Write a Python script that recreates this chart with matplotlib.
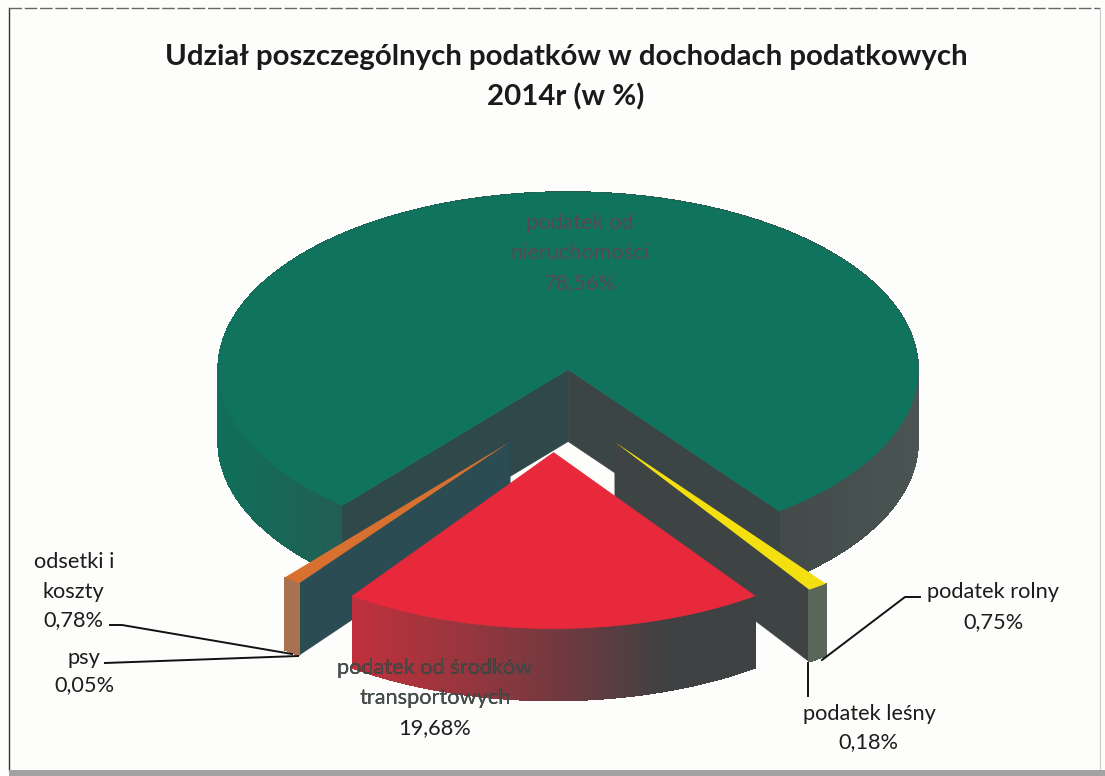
import numpy as np
import matplotlib
matplotlib.use("Agg")
import matplotlib.pyplot as plt
from matplotlib.collections import PolyCollection
from matplotlib.colors import to_rgb
from matplotlib.patches import Polygon

# ---------- data ----------
slice_names = ["nieruchomosci", "rolny", "lesny", "transport", "psy", "odsetki"]
slice_values = [78.56, 0.75, 0.18, 19.68, 0.05, 0.78]
title_lines = ["Udział poszczególnych podatków w dochodach podatkowych", "2014r (w %)"]

# ---------- pie projection ----------
CX, CY = 563, 411     # pie centre before exploding, in pixels
RX = 350              # radius
RED_R = 347           # red slice looks a bit smaller in the scan
RED_TURN = -1.7       # and sits a little rotated against the others
TILT = 0.507          # ellipse squash
DEPTH = 72            # wall height
EXPLODE = 82
START = 220.1         # degrees clockwise from 12 o'clock

plt.rcParams["font.family"] = ["Lato", "DejaVu Sans"]
fig = plt.figure(figsize=(11.05, 7.76), dpi=100, facecolor="#fdfdfb")
ax = fig.add_axes([0, 0, 1, 1])
ax.set_xlim(0, 1105)
ax.set_ylim(776, 0)
ax.axis("off")


def point(theta, center, r=RX):
    t = np.radians(theta)
    return center[0] + r * np.sin(t), center[1] - r * np.cos(t) * TILT


def sector(a, b, center, r=RX):
    th = np.linspace(a, b, max(int(abs(b - a) * 2), 3))
    return [center] + [point(x, center, r) for x in th]


def flat_wall(p, q, color, z):
    pts = [p, q, (q[0], q[1] + DEPTH), (p[0], p[1] + DEPTH)]
    ax.add_patch(Polygon(pts, closed=True, fc=color, ec=color, lw=0.5, zorder=z))


def outer_wall(a, b, center, stops, z, r=RX):
    # curved side of a slice, shaded by how far it turns left or right
    th = np.arange(a, b, 0.5)
    th = np.append(th, b)
    polys, cols = [], []
    xs = [s[0] for s in stops]
    rgb = np.array([to_rgb(s[1]) for s in stops])
    for t0, t1 in zip(th[:-1], th[1:]):
        p, q = point(t0, center, r), point(t1, center, r)
        polys.append([p, q, (q[0], q[1] + DEPTH), (p[0], p[1] + DEPTH)])
        s = np.sin(np.radians((t0 + t1) / 2))
        cols.append([np.interp(s, xs, rgb[:, i]) for i in range(3)])
    ax.add_collection(PolyCollection(polys, facecolors=cols, edgecolors=cols, linewidths=0.5,
                                     antialiaseds=False, zorder=z))


def moved(c, dx, dy):
    return c[0] + dx, c[1] + dy


# angles and exploded centres from the values
spans = np.array(slice_values) / sum(slice_values) * 360
starts = START + np.concatenate([[0], np.cumsum(spans)[:-1]])
ends = starts + spans
centers = {}
angles = {}
for name, a, b in zip(slice_names, starts, ends):
    mid = np.radians((a + b) / 2)
    centers[name] = (CX + EXPLODE * np.sin(mid), CY - EXPLODE * np.cos(mid) * TILT)
    angles[name] = (a, b)

# ---------- main slice ----------
c = moved(centers["nieruchomosci"], 3, 0)
a, b = angles["nieruchomosci"]
green_stops = [(-1, "#0f6f5a"), (-0.63, "#235d54"), (0.6, "#424a4a"), (1, "#4a5553")]
outer_wall(a, 270, c, green_stops, 1)
outer_wall(90, b, c, green_stops, 1)
flat_wall(c, point(a, c), "#2f494b", 2)
flat_wall(c, point(b, c), "#3c4545", 2)
ax.add_patch(Polygon(sector(a, b, c), closed=True, fc="#0f735d", ec="#0f735d", lw=0.5, zorder=3))

# ---------- thin slices ----------
a = angles["rolny"][0]
b = angles["lesny"][1]
c = ((centers["rolny"][0] + centers["lesny"][0]) / 2, (centers["rolny"][1] + centers["lesny"][1]) / 2)
c = moved(c, 5, -3)
flat_wall(c, point(b, c), "#3e4444", 4)
outer_wall(a, b, c, [(-1, "#5a665a"), (1, "#5a665a")], 4)
ax.add_patch(Polygon(sector(a, b, c), closed=True, fc="#f4e010", ec="none", zorder=5))

a = angles["psy"][0]
b = angles["odsetki"][1]
c = ((centers["odsetki"][0] + centers["psy"][0]) / 2, (centers["odsetki"][1] + centers["psy"][1]) / 2)
c = moved(c, -2.5, -2)
flat_wall(c, point(a, c), "#2a4c52", 4)
outer_wall(a, b, c, [(-1, "#a8714f"), (1, "#a8714f")], 4)
ax.add_patch(Polygon(sector(a, b, c), closed=True, fc="#d8702f", ec="none", zorder=5))

# ---------- red slice ----------
c = moved(centers["transport"], -7, 0)
a, b = angles["transport"]
a, b = a + RED_TURN, b + RED_TURN
red_stops = [(-0.6, "#c2303c"), (-0.25, "#96363e"), (0.05, "#6c3a40"), (0.32, "#404142"), (0.6, "#3e4242")]
outer_wall(a, b, c, red_stops, 6, r=RED_R)
ax.add_patch(Polygon(sector(a, b, c, RED_R), closed=True, fc="#e8293c", ec="#e8293c", lw=0.5, zorder=7))

# outline of the red wall, the label over it reads darker
th = np.linspace(a, b, 120)
arc = [point(x, c, RED_R) for x in th]
wall_path = Polygon(arc + [(x, y + DEPTH) for x, y in arc[::-1]], closed=True, transform=ax.transData)

# ---------- leader lines ----------
leaders = [
    ([110, 122, 292], [625, 625, 654]),
    ([105, 298], [663, 656]),
    ([920, 905, 822], [597, 597, 660]),
    ([808, 808], [663, 696]),
]
for lx, ly in leaders:
    ax.plot(lx, ly, color="#111111", lw=1.4, zorder=8)

# ---------- texts ----------
TEXT_SIZE = 15.7
labels = [
    ("podatek od", 580, 223, "#574a52"),
    ("nieruchomości", 580, 253, "#574a52"),
    ("78,56%", 580, 283, "#574a52"),
    ("odsetki i", 74, 562, "#1c1c1c"),
    ("koszty", 73, 592, "#1c1c1c"),
    ("0,78%", 73, 620, "#1c1c1c"),
    ("psy", 84, 658, "#1c1c1c"),
    ("0,05%", 84, 685, "#1c1c1c"),
    ("podatek rolny", 993, 592, "#1c1c1c"),
    ("0,75%", 993, 622, "#1c1c1c"),
    ("podatek leśny", 869, 714, "#1c1c1c"),
    ("0,18%", 868, 742, "#1c1c1c"),
    ("19,68%", 435, 728, "#1c1c1c"),
]
for txt, x, y, col in labels:
    ax.text(x, y, txt, ha="center", va="center", fontsize=TEXT_SIZE, color=col, zorder=9)

for txt, y in [("podatek od środków", 668), ("transportowych", 698)]:
    ax.text(435, y, txt, ha="center", va="center", fontsize=TEXT_SIZE, color="#141414", zorder=9)
    over = ax.text(435, y, txt, ha="center", va="center", fontsize=TEXT_SIZE, color="#45504c", zorder=10)
    over.set_clip_path(wall_path)
    over.set_clip_on(True)

for line, y in zip(title_lines, [57, 97]):
    ax.text(566, y, line, ha="center", va="center", fontsize=21.2, fontweight="bold", color="#1a1a1a", zorder=9)

# ---------- scanned frame ----------
ax.plot([9, 9], [8, 770], color="#333333", lw=1.0, zorder=0)
ax.plot([9, 1100], [8, 8], color="#666666", lw=1.0, ls=(0, (9, 2)), zorder=0)
ax.plot([1100, 1100], [8, 770], color="#c8c8c8", lw=0.8, zorder=0)
ax.fill_between([9, 1105], 770, 776, color="#a2a2a2", lw=0, zorder=0)

fig.savefig("out.png", dpi=100, facecolor=fig.get_facecolor())
